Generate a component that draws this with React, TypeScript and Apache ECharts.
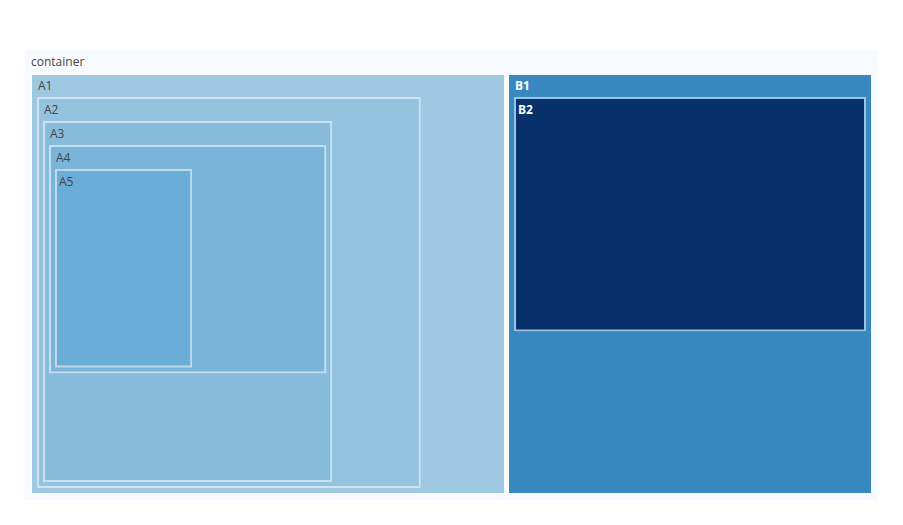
import React, { useEffect, useRef } from 'react';
import * as echarts from 'echarts';

const rootName = 'container';
const rootColor = '#f7fbff';
const nodeNames = ['A1', 'A2', 'A3', 'A4', 'A5', 'B1', 'B2'];
const nodeParents = ['container', 'A1', 'A2', 'A3', 'A4', 'container', 'B1'];
const nodeValues = [11, 12, 13, 14, 15, 20, 30];
const nodeColors = ['#9fc9e1', '#94c3e0', '#87bcdc', '#7ab4d9', '#6aadd6', '#3888c0', '#08306b'];
const nodeTextColors = ['#444444', '#444444', '#444444', '#444444', '#444444', '#ffffff', '#ffffff'];

const FONT = '"Open Sans", verdana, arial, sans-serif';
const OUTLINE = 'rgba(255,255,255,0.5)';

function childrenOf(name: string): string[] {
  return nodeNames.filter((_, j) => nodeParents[j] === name);
}

function total(name: string): number {
  const i = nodeNames.indexOf(name);
  const own = i >= 0 ? nodeValues[i] : 0;
  return own + childrenOf(name).reduce((s, k) => s + total(k), 0);
}

function build(name: string, depth: number): any {
  const i = nodeNames.indexOf(name);
  const kids = childrenOf(name);
  const outline = depth === 1 ? 1 : 2;
  const pad = depth === 1 ? 5 : 4;
  const fill = nodeColors[i];
  const tc = nodeTextColors[i];
  const fw = tc === '#ffffff' ? 'bold' : 'normal';
  if (!kids.length) {
    return {
      name,
      value: nodeValues[i],
      itemStyle: { color: fill, borderColor: OUTLINE, borderWidth: outline, gapWidth: 0 },
      label: {
        show: true,
        position: [2, 4],
        padding: 0,
        align: 'left',
        verticalAlign: 'top',
        color: tc,
        fontSize: 12,
        fontFamily: FONT,
        fontWeight: fw,
      },
      upperLabel: { show: false },
    };
  }
  const tot = total(name);
  return {
    name: '',
    value: tot,
    itemStyle: { borderColor: OUTLINE, borderWidth: outline, gapWidth: 0 },
    upperLabel: { show: false },
    label: { show: false },
    children: [
      {
        name,
        value: tot,
        itemStyle: { borderColor: fill, borderWidth: pad, gapWidth: 0 },
        upperLabel: {
          show: true,
          height: 22,
          position: [1, '50%'],
          verticalAlign: 'middle',
          padding: 0,
          offset: [0, -1],
          color: tc,
          fontSize: 12,
          fontFamily: FONT,
          fontWeight: fw,
        },
        label: { show: false },
        children: [
          ...kids.map((k) => build(k, depth + 1)),
          {
            name: '',
            value: nodeValues[i],
            itemStyle: { color: fill, borderColor: fill, borderWidth: 0 },
            label: { show: false },
            upperLabel: { show: false },
          },
        ],
      },
    ],
  };
}

export default function App() {
  const ref = useRef<HTMLDivElement>(null);
  useEffect(() => {
    if (!ref.current) return;
    const chart = echarts.init(ref.current, undefined, { renderer: 'svg' });
    const data = [
      {
        name: rootName,
        value: total(rootName),
        itemStyle: { borderColor: rootColor, borderWidth: 6, gapWidth: 3 },
        upperLabel: {
          show: true,
          height: 24,
          position: [0, '50%'],
          verticalAlign: 'middle',
          padding: 0,
          offset: [0, -1],
          color: '#444444',
          fontSize: 12,
          fontFamily: FONT,
        },
        label: { show: false },
        children: childrenOf(rootName).map((k) => build(k, 1)),
      },
    ];
    chart.setOption({
      animation: false,
      backgroundColor: '#ffffff',
      series: [
        {
          type: 'treemap',
          left: 25,
          top: 50,
          width: 853,
          height: 450,
          roam: false,
          nodeClick: false,
          drillDownIcon: '',
          sort: 'desc',
          squareRatio: 1,
          visibleMin: 0,
          breadcrumb: { show: false },
          emphasis: { disabled: true },
          data,
        },
      ],
    });
    return () => chart.dispose();
  }, []);
  return (
    <div
      ref={ref}
      style={{ position: 'fixed', left: 0, top: 0, width: 903, height: 525, background: '#fff' }}
    />
  );
}
